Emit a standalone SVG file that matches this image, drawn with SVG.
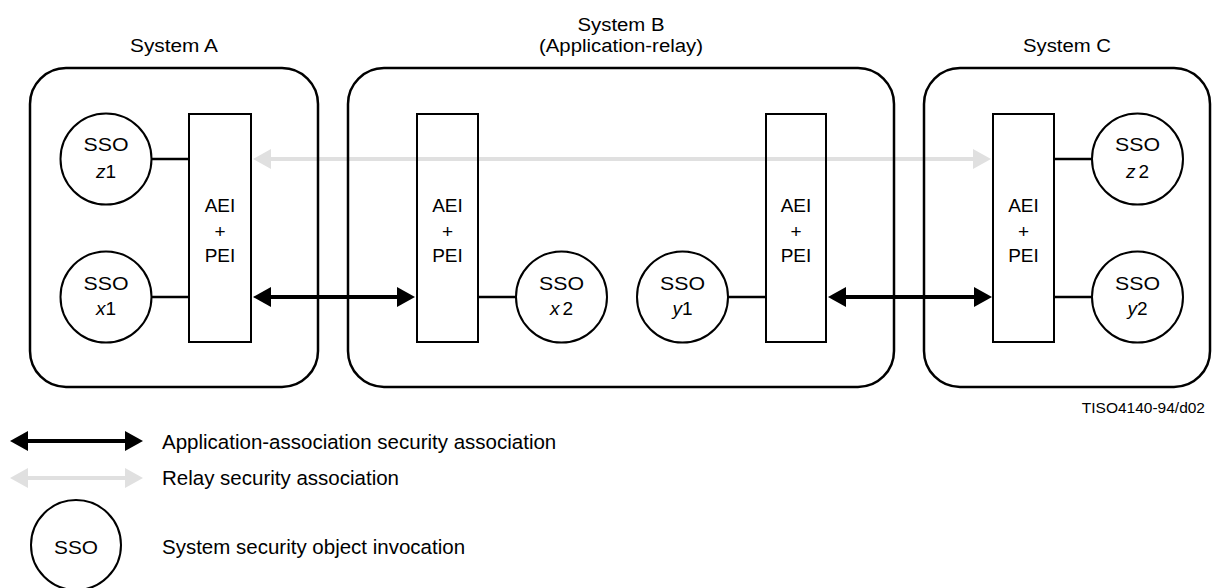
<svg xmlns="http://www.w3.org/2000/svg" width="1214" height="588" viewBox="0 0 1214 588">
<style>
text{font-family:"Liberation Sans",Arial,sans-serif;fill:#000}
.t{font-size:18px;text-anchor:middle}
.n{font-size:19px;text-anchor:middle}
.lg{font-size:20.5px}
.sys{fill:none;stroke:#000;stroke-width:2.5}
.aei{fill:none;stroke:#000;stroke-width:2}
.sso{fill:#fff;stroke:#000;stroke-width:2}
.ln{stroke:#000;stroke-width:2.5;fill:none}
.blk{stroke:#000;stroke-width:4;fill:none}
.gry{stroke:#e0e0e0;stroke-width:4;fill:none}
</style>
<defs>
<marker id="hb" markerUnits="userSpaceOnUse" markerWidth="18" markerHeight="20" refX="0" refY="10" orient="auto-start-reverse"><path d="M0,0 L18,10 L0,20 z" fill="#000"/></marker>
<marker id="hg" markerUnits="userSpaceOnUse" markerWidth="18" markerHeight="20" refX="0" refY="10" orient="auto-start-reverse"><path d="M0,0 L18,10 L0,20 z" fill="#e0e0e0"/></marker>
</defs>
<g id="connectors">
<line class="gry" x1="271" y1="159" x2="973" y2="159" marker-start="url(#hg)" marker-end="url(#hg)"/>
<line class="blk" x1="271" y1="297" x2="397" y2="297" marker-start="url(#hb)" marker-end="url(#hb)"/>
<line class="blk" x1="846" y1="297" x2="974" y2="297" marker-start="url(#hb)" marker-end="url(#hb)"/>
<line class="ln" x1="151" y1="159" x2="189" y2="159"/>
<line class="ln" x1="151" y1="297" x2="189" y2="297"/>
<line class="ln" x1="478" y1="297" x2="516" y2="297"/>
<line class="ln" x1="728" y1="297" x2="766" y2="297"/>
<line class="ln" x1="1054" y1="159" x2="1092" y2="159"/>
<line class="ln" x1="1054" y1="297" x2="1092" y2="297"/>
</g>
<g id="systemA">
<rect class="sys" x="30" y="68" width="288" height="319" rx="36"/>
<text class="t" x="174" y="52" textLength="88" lengthAdjust="spacingAndGlyphs">System A</text>
</g>
<g id="systemB">
<rect class="sys" x="348" y="68" width="546" height="319" rx="36"/>
<text class="t" x="621" y="31" textLength="87" lengthAdjust="spacingAndGlyphs">System B</text>
<text class="t" x="621" y="52" textLength="164" lengthAdjust="spacingAndGlyphs">(Application-relay)</text>
</g>
<g id="systemC">
<rect class="sys" x="924" y="68" width="286" height="319" rx="36"/>
<text class="t" x="1067" y="52" textLength="88" lengthAdjust="spacingAndGlyphs">System C</text>
</g>
<g id="aeiA">
<rect class="aei" x="189" y="114" width="62" height="228"/>
<text class="n" x="220" y="212">AEI</text><text class="n" x="220" y="238">+</text><text class="n" x="220" y="262">PEI</text>
</g>
<g id="aeiB1">
<rect class="aei" x="417" y="114" width="61" height="228"/>
<text class="n" x="447.5" y="212">AEI</text><text class="n" x="447.5" y="238">+</text><text class="n" x="447.5" y="262">PEI</text>
</g>
<g id="aeiB2">
<rect class="aei" x="766" y="114" width="60" height="228"/>
<text class="n" x="796" y="212">AEI</text><text class="n" x="796" y="238">+</text><text class="n" x="796" y="262">PEI</text>
</g>
<g id="aeiC">
<rect class="aei" x="993" y="114" width="61" height="228"/>
<text class="n" x="1023.5" y="212">AEI</text><text class="n" x="1023.5" y="238">+</text><text class="n" x="1023.5" y="262">PEI</text>
</g>
<g id="ssoZ1">
<circle class="sso" cx="106" cy="159" r="45.5"/>
<text class="n" x="106" y="151" textLength="45" lengthAdjust="spacingAndGlyphs">SSO</text>
<text class="n" x="106" y="178"><tspan font-style="italic">z</tspan>1</text>
</g>
<g id="ssoX1">
<circle class="sso" cx="106" cy="297" r="45.5"/>
<text class="n" x="106" y="290" textLength="45" lengthAdjust="spacingAndGlyphs">SSO</text>
<text class="n" x="106" y="315"><tspan font-style="italic">x</tspan>1</text>
</g>
<g id="ssoX2">
<circle class="sso" cx="561.5" cy="297" r="45.5"/>
<text class="n" x="561.5" y="290" textLength="45" lengthAdjust="spacingAndGlyphs">SSO</text>
<text class="n" x="561.5" y="315"><tspan font-style="italic">x</tspan><tspan dx="3">2</tspan></text>
</g>
<g id="ssoY1">
<circle class="sso" cx="682.5" cy="297" r="45.5"/>
<text class="n" x="682.5" y="290" textLength="45" lengthAdjust="spacingAndGlyphs">SSO</text>
<text class="n" x="682.5" y="315"><tspan font-style="italic">y</tspan>1</text>
</g>
<g id="ssoZ2">
<circle class="sso" cx="1137.5" cy="159" r="45.5"/>
<text class="n" x="1137.5" y="151" textLength="45" lengthAdjust="spacingAndGlyphs">SSO</text>
<text class="n" x="1137.5" y="178"><tspan font-style="italic">z</tspan><tspan dx="3">2</tspan></text>
</g>
<g id="ssoY2">
<circle class="sso" cx="1137.5" cy="297" r="45.5"/>
<text class="n" x="1137.5" y="290" textLength="45" lengthAdjust="spacingAndGlyphs">SSO</text>
<text class="n" x="1137.5" y="315"><tspan font-style="italic">y</tspan>2</text>
</g>
<text x="1205" y="413" font-size="15.5" text-anchor="end">TISO4140-94/d02</text>
<g id="legend">
<line class="blk" x1="28" y1="441" x2="125" y2="441" marker-start="url(#hb)" marker-end="url(#hb)"/>
<text class="lg" x="162" y="449">Application-association security association</text>
<line class="gry" x1="28" y1="478" x2="125" y2="478" marker-start="url(#hg)" marker-end="url(#hg)"/>
<text class="lg" x="162" y="485">Relay security association</text>
<circle class="sso" cx="76" cy="545" r="45"/>
<text class="n" x="76" y="554" textLength="44" lengthAdjust="spacingAndGlyphs">SSO</text>
<text class="lg" x="162" y="554">System security object invocation</text>
</g>
</svg>
